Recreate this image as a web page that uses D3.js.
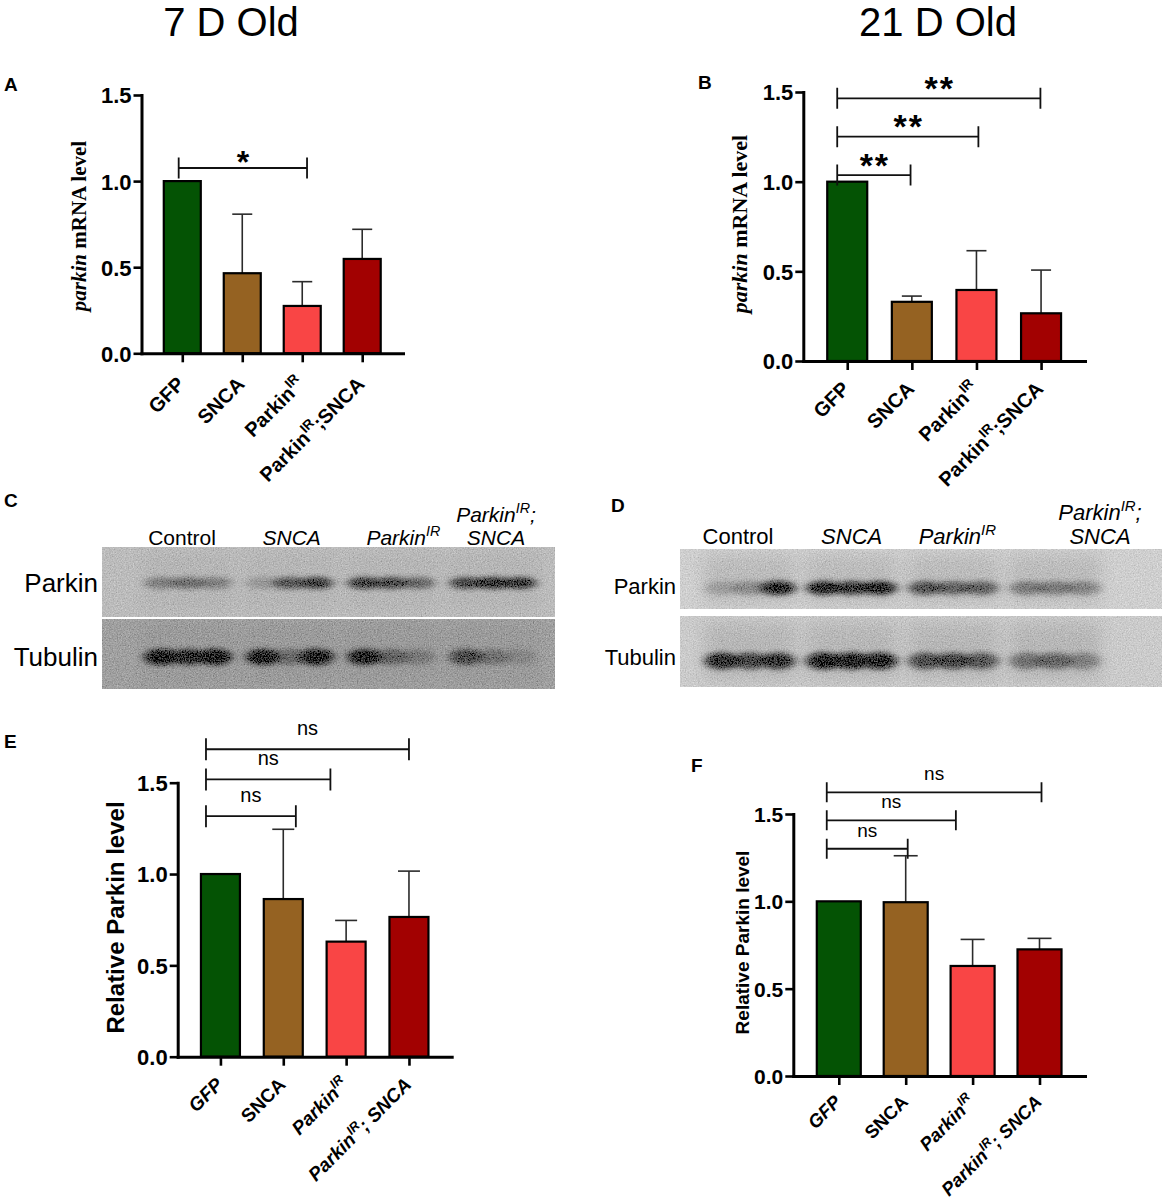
<!DOCTYPE html>
<html>
<head>
<meta charset="utf-8">
<script src="https://cdn.jsdelivr.net/npm/d3@7"></script>
<style>
  body { margin: 0; background: #fff; }
  svg { display: block; }
</style>
</head>
<body>
<svg id="fig"></svg>
<script>
// ---- data ----
let groupsMrna = ['GFP', 'SNCA', 'Parkin^IR', 'Parkin^IR;SNCA']
let groupsProt = ['GFP', 'SNCA', 'Parkin^IR', 'Parkin^IR; SNCA']
let yTicks = [0, 0.5, 1.0, 1.5]

// A: parkin mRNA, 7 days
let mrnaMean7 = [1.0, 0.465, 0.275, 0.548]
let mrnaSd7 = [0, 0.343, 0.141, 0.172]
// B: parkin mRNA, 21 days
let mrnaMean21 = [1.0, 0.33, 0.396, 0.266]
let mrnaSd21 = [0, 0.032, 0.219, 0.241]
// E: relative Parkin protein, 7 days
let protMean7 = [1.0, 0.863, 0.63, 0.765]
let protSd7 = [0, 0.382, 0.116, 0.251]
// F: relative Parkin protein, 21 days
let protMean21 = [1.0, 0.995, 0.63, 0.725]
let protSd21 = [0, 0.266, 0.152, 0.063]

// significance brackets: from/to in group index units, at = height in y units
let sigA = [{from: -0.06, to: 2.08, at: 1.076, label: '*'}]
let sigB = [
    {from: -0.155, to: 0.98, at: 1.037, label: '**'},
    {from: -0.155, to: 2.03, at: 1.251, label: '**'},
    {from: -0.155, to: 2.99, at: 1.465, label: '**'}
]
let sigE = [
    {from: -0.23, to: 1.2, at: 1.317, label: 'ns'},
    {from: -0.23, to: 1.75, at: 1.518, label: 'ns'},
    {from: -0.23, to: 3.0, at: 1.683, label: 'ns'}
]
let sigF = [
    {from: -0.18, to: 1.03, at: 1.301, label: 'ns'},
    {from: -0.18, to: 1.75, at: 1.464, label: 'ns'},
    {from: -0.18, to: 3.03, at: 1.624, label: 'ns'}
]

// western blots: darkness of each lane, left / middle / right part of the band
let lanes = ['Control', 'SNCA', 'Parkin^IR', 'Parkin^IR;|SNCA']
let parkinBand7 = [[0.35, 0.45, 0.35], [0.2, 0.6, 0.75], [0.75, 0.7, 0.5], [0.7, 0.85, 0.8]]
let tubulinBand7 = [[0.95, 0.8, 0.95], [0.9, 0.35, 1.0], [0.9, 0.4, 0.25], [0.6, 0.3, 0.15]]
let parkinBand21 = [[0.2, 0.3, 1.0], [0.9, 0.8, 0.9], [0.65, 0.55, 0.55], [0.4, 0.4, 0.35]]
let tubulinBand21 = [[0.85, 0.7, 0.8], [1.0, 1.0, 1.0], [0.65, 0.7, 0.6], [0.45, 0.5, 0.35]]

let barColors = ['#045304', '#956222', '#f94545', '#a20101']
let SANS = "'Liberation Sans', Arial, sans-serif"
let SERIF = "'Liberation Serif', 'Times New Roman', serif"

let svg = d3.select('#fig').attr('width', 1170).attr('height', 1202)

// filters: film grain for the blots and a soft blur for the bands
let defs = svg.append('defs')
let grain = defs.append('filter').attr('id', 'grain')
    .attr('x', 0).attr('y', 0).attr('width', 1).attr('height', 1)
grain.append('feTurbulence').attr('type', 'fractalNoise')
    .attr('baseFrequency', 0.75).attr('numOctaves', 2).attr('seed', 7).attr('result', 'noise')
grain.append('feColorMatrix').attr('in', 'noise').attr('type', 'matrix')
    .attr('values', '0.33 0.33 0.33 0 0  0.33 0.33 0.33 0 0  0.33 0.33 0.33 0 0  0 0 0 0 1')
    .attr('result', 'gray')
grain.append('feComposite').attr('in', 'SourceGraphic').attr('in2', 'gray')
    .attr('operator', 'arithmetic').attr('k1', 0).attr('k2', 1).attr('k3', 0.7).attr('k4', -0.35)
defs.append('filter').attr('id', 'soft')
    .attr('x', '-50%').attr('y', '-100%').attr('width', '200%').attr('height', '300%')
    .append('feGaussianBlur').attr('stdDeviation', '5 2.5')
defs.append('filter').attr('id', 'haze')
    .attr('x', '-50%').attr('y', '-50%').attr('width', '200%').attr('height', '200%')
    .append('feGaussianBlur').attr('stdDeviation', 8)

// writes "Parkin^IR;SNCA" as text with a superscript
function richText(sel, str, size) {
    let parts = str.split(/\^(\w+)/)
    let shift = size * 0.42
    parts.forEach((s, i) => {
        if (!s) return
        let t = sel.append('tspan').text(s)
        if (i % 2 == 1) t.attr('font-size', size * 0.68).attr('dy', -shift)
        else if (i > 0) t.attr('dy', shift)
    })
}

function barPanel(p) {
    let g = svg.append('g')
    let x = d3.scalePoint().domain(d3.range(p.groups.length))
        .range([p.left, p.right]).padding(0.68)
    let y = d3.scaleLinear().domain([0, 1.5]).range([p.bottom, p.top])
    let pos = d3.scaleLinear().domain([0, 1]).range([x(0), x(1)])

    // error bars, under the bars
    let errData = p.means.map((m, i) => ({i: i, m: m, sd: p.sds[i]})).filter(d => d.sd > 0)
    let err = g.selectAll('g.err').data(errData).join('g').attr('class', 'err')
    err.append('line')
        .attr('x1', d => x(d.i)).attr('x2', d => x(d.i))
        .attr('y1', d => y(d.m)).attr('y2', d => y(d.m + d.sd))
    err.append('line')
        .attr('x1', d => x(d.i) - p.capW / 2).attr('x2', d => x(d.i) + p.capW / 2)
        .attr('y1', d => y(d.m + d.sd)).attr('y2', d => y(d.m + d.sd))
    err.selectAll('line').attr('stroke', '#2b2b2b').attr('stroke-width', 1.6)

    g.selectAll('rect.bar').data(p.means).join('rect').attr('class', 'bar')
        .attr('x', (d, i) => x(i) - p.barW / 2)
        .attr('y', d => y(d))
        .attr('width', p.barW)
        .attr('height', d => y(0) - y(d))
        .attr('fill', (d, i) => barColors[i])
        .attr('stroke', '#000')
        .attr('stroke-width', 2.2)

    // y axis
    let yAxis = g.append('g').attr('transform', `translate(${p.left},0)`)
        .call(d3.axisLeft(y).tickValues(yTicks).tickFormat(d3.format('.1f')).tickSize(8).tickSizeOuter(0))
    yAxis.select('.domain').attr('stroke-width', 3).attr('stroke-linecap', 'square')
    yAxis.selectAll('.tick line').attr('stroke-width', 2.6)
    yAxis.selectAll('.tick text')
        .attr('x', -10).attr('dy', '0.36em')
        .attr('font-size', p.tickFont).attr('font-weight', 'bold')
        .attr('font-family', SANS).attr('fill', '#000')

    // x axis with rotated group names
    let xAxis = g.append('g').attr('transform', `translate(0,${p.bottom})`)
        .call(d3.axisBottom(x).tickSize(9).tickSizeOuter(0).tickFormat(''))
    xAxis.select('.domain').attr('stroke-width', 3).attr('stroke-linecap', 'square')
    xAxis.selectAll('.tick line').attr('stroke-width', 2.6)
    xAxis.selectAll('.tick text').remove()
    xAxis.selectAll('.tick').append('text')
        .attr('text-anchor', 'end')
        .attr('transform', `translate(3,${p.labelDrop}) rotate(-45)`)
        .attr('font-size', p.catFont).attr('font-weight', 'bold')
        .attr('font-family', SANS).attr('fill', '#000')
        .attr('font-style', i => p.italic[i] ? 'italic' : 'normal')
        .each(function(i) { richText(d3.select(this), p.groups[i], p.catFont) })

    // significance brackets
    let sig = g.selectAll('g.sig').data(p.sigs).join('g').attr('class', 'sig')
    sig.append('path')
        .attr('d', d => {
            let x1 = pos(d.from), x2 = pos(d.to), yy = y(d.at), c = p.capH
            return `M${x1},${yy - c}V${yy + c}M${x1},${yy}H${x2}M${x2},${yy - c}V${yy + c}`
        })
        .attr('fill', 'none').attr('stroke', '#111').attr('stroke-width', 1.8)
    sig.append('text')
        .attr('x', d => (pos(d.from) + pos(d.to)) / 2 + p.sigSpacing / 2)
        .attr('y', d => y(d.at) + p.sigDy)
        .attr('text-anchor', 'middle')
        .attr('font-family', SANS).attr('font-size', p.sigFont)
        .attr('font-weight', p.sigBold ? 'bold' : 'normal')
        .attr('letter-spacing', p.sigSpacing)
        .text(d => d.label)

    // y title
    let t = g.append('text')
        .attr('transform', `translate(${p.titleX},${p.titleY}) rotate(-90)`)
        .attr('text-anchor', 'middle').attr('font-weight', 'bold')
        .attr('font-size', p.titleFont)
    if (p.serifTitle) {
        t.attr('font-family', SERIF)
        t.append('tspan').attr('font-style', 'italic').text('parkin')
        t.append('tspan').text(' mRNA level')
    } else {
        t.attr('font-family', SANS).text('Relative Parkin level')
    }
}

function blot(b) {
    let lane = d3.scalePoint().domain(d3.range(lanes.length)).range(b.laneRange)
    b.rows.forEach(r => {
        let g = svg.append('g').attr('filter', 'url(#grain)')
        g.append('rect')
            .attr('x', b.x0).attr('y', r.y0)
            .attr('width', b.x1 - b.x0).attr('height', r.y1 - r.y0)
            .attr('fill', r.bg)
        // faint lane shading
        g.append('g').selectAll('rect').data(d3.range(lanes.length)).join('rect')
            .attr('x', i => lane(i) - 46).attr('y', r.y0 + 6)
            .attr('width', 92).attr('height', r.y1 - r.y0 - 12)
            .attr('fill', '#000').attr('opacity', b.laneShade)
            .attr('filter', 'url(#haze)')
        let segs = r.bands.flatMap((lv, i) => lv.map((v, k) => ({i: i, k: k, v: v})))
        g.append('g').selectAll('ellipse').data(segs).join('ellipse')
            .attr('cx', d => lane(d.i) + (d.k - 1) * b.segStep)
            .attr('cy', r.bandY)
            .attr('rx', b.segStep * 0.62)
            .attr('ry', r.bandH / 2)
            .attr('fill', '#080808')
            .attr('fill-opacity', d => d.v * 0.85)
            .attr('filter', 'url(#soft)')
        svg.append('text')
            .attr('x', b.rowLabelX).attr('y', r.labelY)
            .attr('text-anchor', 'end')
            .attr('font-family', SANS).attr('font-size', b.rowFont)
            .text(r.name)
    })
    // lane headers
    lanes.forEach((name, i) => {
        let lines = name.split('|')
        lines.forEach((line, j) => {
            let t = svg.append('text')
                .attr('x', lane(i) + b.labelShift[i])
                .attr('y', b.laneLabelY - (lines.length - 1 - j) * b.lineGap)
                .attr('text-anchor', 'middle')
                .attr('font-family', SANS).attr('font-size', b.laneFont)
                .attr('font-style', i == 0 ? 'normal' : 'italic')
            richText(t, line, b.laneFont)
        })
    })
}

// ---- titles and panel letters ----
svg.append('text').attr('x', 231).attr('y', 36).attr('text-anchor', 'middle')
    .attr('font-family', SANS).attr('font-size', 40).text('7 D Old')
svg.append('text').attr('x', 938).attr('y', 36).attr('text-anchor', 'middle')
    .attr('font-family', SANS).attr('font-size', 40).text('21 D Old')

let letters = [
    {t: 'A', x: 4, y: 91}, {t: 'B', x: 698, y: 89},
    {t: 'C', x: 4, y: 507}, {t: 'D', x: 611, y: 512},
    {t: 'E', x: 4, y: 748}, {t: 'F', x: 691, y: 772}
]
svg.selectAll('text.letter').data(letters).join('text').attr('class', 'letter')
    .attr('x', d => d.x).attr('y', d => d.y)
    .attr('font-family', SANS).attr('font-weight', 'bold').attr('font-size', 19)
    .text(d => d.t)

// ---- bar charts ----
barPanel({
    groups: groupsMrna, means: mrnaMean7, sds: mrnaSd7, sigs: sigA,
    italic: [false, false, false, false],
    left: 141.5, right: 403, bottom: 353.3, top: 95,
    barW: 37, capW: 20, capH: 10.5,
    tickFont: 22, catFont: 20, labelDrop: 32,
    sigFont: 32, sigBold: true, sigDy: 5, sigSpacing: 0,
    serifTitle: true, titleX: 86, titleY: 226, titleFont: 21
})
barPanel({
    groups: groupsMrna, means: mrnaMean21, sds: mrnaSd21, sigs: sigB,
    italic: [false, false, false, false],
    left: 803.3, right: 1085, bottom: 361, top: 92,
    barW: 40, capW: 20, capH: 10.5,
    tickFont: 22, catFont: 20, labelDrop: 29,
    sigFont: 34, sigBold: true, sigDy: 1.5, sigSpacing: 2,
    serifTitle: true, titleX: 747, titleY: 224, titleFont: 22
})
barPanel({
    groups: groupsProt, means: protMean7, sds: protSd7, sigs: sigE,
    italic: [true, false, true, true],
    left: 177.7, right: 451.7, bottom: 1056.7, top: 782.7,
    barW: 39, capW: 22, capH: 11,
    tickFont: 22, catFont: 19, labelDrop: 29,
    sigFont: 20, sigBold: false, sigDy: -14, sigSpacing: 0,
    serifTitle: false, titleX: 124, titleY: 917.5, titleFont: 24
})
barPanel({
    groups: groupsProt, means: protMean21, sds: protSd21, sigs: sigF,
    italic: [true, false, true, true],
    left: 793.3, right: 1085, bottom: 1076, top: 814,
    barW: 44, capW: 24, capH: 10,
    tickFont: 21, catFont: 18.5, labelDrop: 27,
    sigFont: 19, sigBold: false, sigDy: -12, sigSpacing: 0,
    serifTitle: false, titleX: 749, titleY: 942.5, titleFont: 19
})

// ---- western blots ----
blot({
    x0: 102, x1: 555, laneRange: [188, 493], segStep: 27, laneShade: 0.03,
    rowLabelX: 98, rowFont: 26,
    laneFont: 21, laneLabelY: 545, lineGap: 23, labelShift: [-6, 2, 12, 3],
    rows: [
        {name: 'Parkin', bands: parkinBand7, y0: 547, y1: 617, bg: '#bcbcbc', bandY: 583, bandH: 12, labelY: 592},
        {name: 'Tubulin', bands: tubulinBand7, y0: 619, y1: 689, bg: '#a0a0a0', bandY: 657, bandH: 16, labelY: 666}
    ]
})
blot({
    x0: 680, x1: 1162, laneRange: [750, 1055], segStep: 28, laneShade: 0.09,
    rowLabelX: 676, rowFont: 22,
    laneFont: 22, laneLabelY: 544, lineGap: 24, labelShift: [-12, 0, 4, 45],
    rows: [
        {name: 'Parkin', bands: parkinBand21, y0: 549, y1: 609, bg: '#cfcfcf', bandY: 588, bandH: 14, labelY: 594},
        {name: 'Tubulin', bands: tubulinBand21, y0: 616, y1: 687, bg: '#cbcbcb', bandY: 661, bandH: 17, labelY: 665}
    ]
})
</script>
</body>
</html>
